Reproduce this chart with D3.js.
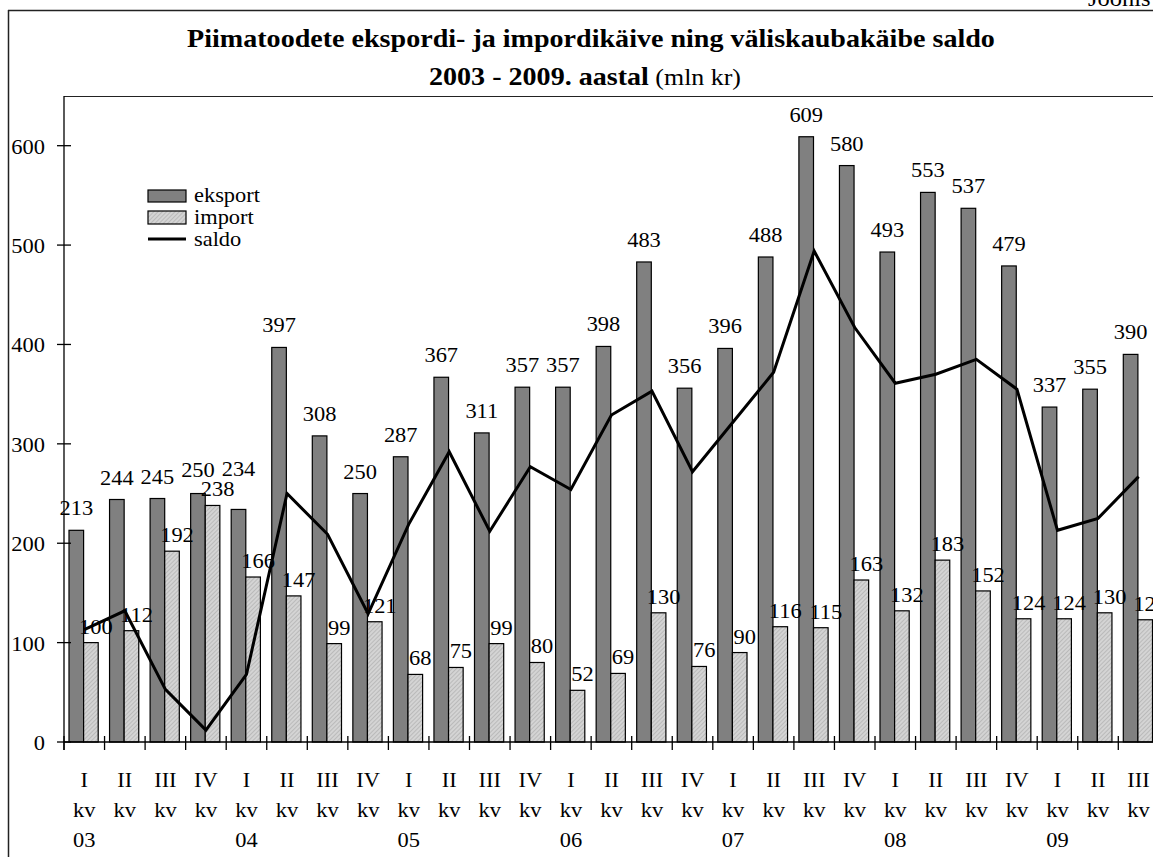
<!DOCTYPE html>
<html>
<head>
<meta charset="utf-8">
<script src="https://cdn.jsdelivr.net/npm/d3@7"></script>
<style>
  body { margin: 0; background: #fff; }
  svg { display: block; }
</style>
</head>
<body>
<svg class="chart" width="1153" height="857"></svg>
<script>
var quarters = ['I','II','III','IV','I','II','III','IV','I','II','III','IV','I','II','III','IV',
                'I','II','III','IV','I','II','III','IV','I','II','III'];
var yearLabels = ['03','04','05','06','07','08','09'];
var eksport = [213,244,245,250,234,397,308,250,287,367,311,357,357,398,483,356,396,488,609,580,493,553,537,479,337,355,390];
var importVals = [100,112,192,238,166,147,99,121,68,75,99,80,52,69,130,76,90,116,115,163,132,183,152,124,124,130,123];
var saldo = [113,132,53,12,68,250,209,129,219,292,212,277,254,329,353,272,322,372,494,417,361,370,385,355,213,225,267];
var yTicks = [0,100,200,300,400,500,600];

var FONT = 'Liberation Serif';
var svg = d3.select('svg.chart');

var txt = function (g, x, y, s, anchor, size, weight, sx) {
  sx = sx || 1.02;
  return g.append('text')
    .attr('transform', 'translate(' + x + ',' + y + ') scale(' + sx + ',1)')
    .attr('text-anchor', anchor || 'middle')
    .attr('font-family', FONT)
    .attr('font-size', size || 22)
    .attr('font-weight', weight || 'normal')
    .attr('fill', '#000')
    .text(s);
};

// hatch for import bars
var defs = svg.append('defs');
var pat = defs.append('pattern')
  .attr('id', 'hatch')
  .attr('patternUnits', 'userSpaceOnUse')
  .attr('width', 3).attr('height', 3)
  .attr('patternTransform', 'rotate(45)');
pat.append('rect').attr('width', 3).attr('height', 3).attr('fill', '#d4d4d4');
pat.append('line').attr('x1', 0).attr('y1', 0).attr('x2', 0).attr('y2', 3)
  .attr('stroke', '#a8a8a8').attr('stroke-width', 1.2);

// frame
svg.append('line').attr('x1', 8.5).attr('x2', 8.5).attr('y1', 10).attr('y2', 857)
  .attr('stroke', '#222').attr('stroke-width', 1.5);
svg.append('line').attr('x1', 8).attr('x2', 1153).attr('y1', 10.5).attr('y2', 10.5)
  .attr('stroke', '#222').attr('stroke-width', 1.5);
svg.append('line').attr('x1', 64).attr('x2', 1153).attr('y1', 96.5).attr('y2', 96.5)
  .attr('stroke', '#222').attr('stroke-width', 1.2);

txt(svg, 1088, 6, 'Joonis', 'start', 24);

// title
txt(svg, 591, 47, 'Piimatoodete ekspordi- ja impordikäive ning väliskaubakäibe saldo', 'middle', 26, 'bold', 1.08);
var t2 = svg.append('text')
  .attr('transform', 'translate(585,85) scale(1.08,1)')
  .attr('text-anchor', 'middle')
  .attr('font-family', FONT)
  .attr('font-size', 26);
t2.append('tspan').attr('font-weight', 'bold').text('2003 - 2009. aastal');
t2.append('tspan').attr('font-size', 24).text(' (mln kr)');

var idx = d3.range(quarters.length);
var x = d3.scaleBand().domain(idx).range([64, 64 + 27 * 40.55]).padding(0);
var xi = d3.scaleBand().domain(['eksport', 'import']).range([5, 34.2]);
var y = d3.scaleLinear().domain([0, 650]).range([742, 96]);

var plot = svg.append('g');

// eksport bars
plot.selectAll('rect.eks').data(eksport).enter().append('rect')
  .attr('class', 'eks')
  .attr('x', function (d, i) { return x(i) + xi('eksport'); })
  .attr('y', function (d) { return y(d); })
  .attr('width', xi.bandwidth())
  .attr('height', function (d) { return y(0) - y(d); })
  .attr('fill', '#808080').attr('stroke', '#000').attr('stroke-width', 1.2);

// import bars
plot.selectAll('rect.imp').data(importVals).enter().append('rect')
  .attr('class', 'imp')
  .attr('x', function (d, i) { return x(i) + xi('import'); })
  .attr('y', function (d) { return y(d); })
  .attr('width', xi.bandwidth())
  .attr('height', function (d) { return y(0) - y(d); })
  .attr('fill', 'url(#hatch)').attr('stroke', '#000').attr('stroke-width', 1.2);

// saldo line, points at category centres
var line = d3.line()
  .x(function (d, i) { return x(i) + x.bandwidth() / 2; })
  .y(function (d) { return y(d); });
plot.append('path').datum(saldo)
  .attr('d', line)
  .attr('fill', 'none').attr('stroke', '#000').attr('stroke-width', 3)
  .attr('stroke-linejoin', 'miter');

// value labels: import labels first, then eksport labels pushed up if they collide
var bbox = function (t) {
  var r = t.node().getBoundingClientRect();
  return { x: r.left, y: r.top + 3, width: r.width, height: r.height - 6 };
};
var placed = [];
var hits = function (b) {
  return placed.some(function (p) {
    return b.x < p.x + p.width && p.x < b.x + b.width && b.y < p.y + p.height && p.y < b.y + b.height;
  });
};
importVals.forEach(function (d, i) {
  var t = txt(plot, x(i) + xi('import') + xi.bandwidth() / 2 + 5, y(d) - 9, d);
  placed.push(bbox(t));
});
eksport.forEach(function (d, i) {
  var cx = x(i) + xi('eksport') + xi.bandwidth() / 2;
  var by = y(d) - 15;
  var t = txt(plot, cx, by, d);
  while (hits(bbox(t)) && by > 110) {
    by -= 2;
    t.attr('transform', 'translate(' + cx + ',' + by + ') scale(1.02,1)');
  }
  placed.push(bbox(t));
});

// y axis
var ax = svg.append('g');
ax.append('line').attr('x1', 64).attr('x2', 64).attr('y1', 96).attr('y2', 750)
  .attr('stroke', '#000').attr('stroke-width', 1.3);
yTicks.forEach(function (v) {
  ax.append('line').attr('x1', 57).attr('x2', 71).attr('y1', y(v)).attr('y2', y(v))
    .attr('stroke', '#000').attr('stroke-width', 1.3);
  txt(ax, 45, y(v) + 8, v, 'end');
});

// x axis
ax.append('line').attr('x1', 64).attr('x2', 1153).attr('y1', y(0)).attr('y2', y(0))
  .attr('stroke', '#000').attr('stroke-width', 1.3);
d3.range(quarters.length + 1).forEach(function (i) {
  var px = 64 + i * x.step();
  ax.append('line').attr('x1', px).attr('x2', px).attr('y1', 736).attr('y2', 750)
    .attr('stroke', '#000').attr('stroke-width', 1.3);
});
quarters.forEach(function (q, i) {
  var cx = x(i) + x.bandwidth() / 2;
  txt(ax, cx, 787, q);
  txt(ax, cx, 817, 'kv');
  if (q === 'I') txt(ax, cx, 847, yearLabels[i / 4]);
});

// legend
var lg = svg.append('g');
lg.append('rect').attr('x', 148).attr('y', 190).attr('width', 38).attr('height', 12)
  .attr('fill', '#808080').attr('stroke', '#000').attr('stroke-width', 1.2);
lg.append('rect').attr('x', 148).attr('y', 211).attr('width', 38).attr('height', 13)
  .attr('fill', 'url(#hatch)').attr('stroke', '#000').attr('stroke-width', 1.2);
lg.append('line').attr('x1', 148).attr('x2', 186).attr('y1', 239).attr('y2', 239)
  .attr('stroke', '#000').attr('stroke-width', 3);
txt(lg, 194, 202, 'eksport', 'start', 20, 'normal', 1.12);
txt(lg, 194, 224, 'import', 'start', 20, 'normal', 1.12);
txt(lg, 194, 246, 'saldo', 'start', 20, 'normal', 1.12);
</script>
</body>
</html>
